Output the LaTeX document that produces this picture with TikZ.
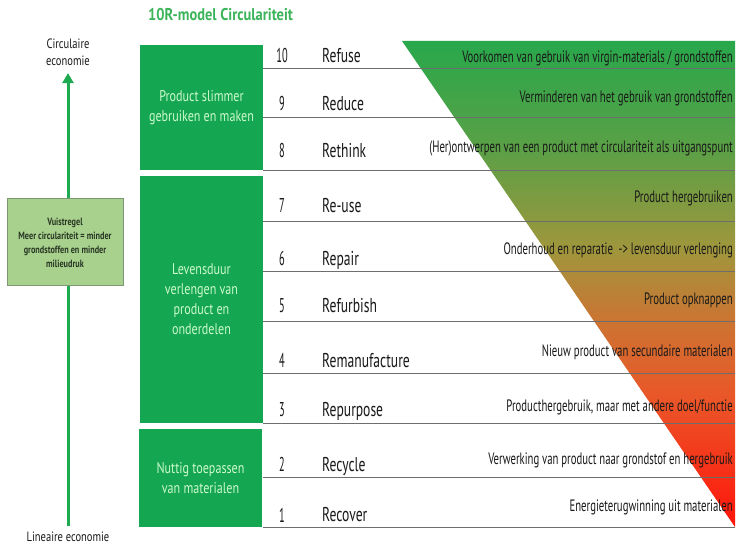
\documentclass[tikz,border=0pt]{standalone}
\usepackage{fontspec}
\setmainfont{PT Sans}
\newfontfamily\fA[FakeStretch=0.68]{PT Sans}
\newfontfamily\fN[FakeStretch=0.52]{PT Sans}
\newfontfamily\fB[FakeStretch=0.65]{PT Sans}
\newfontfamily\fC[FakeStretch=0.78]{PT Sans}
\newfontfamily\fT[FakeStretch=0.85]{PT Sans}
\usetikzlibrary{arrows.meta}
\definecolor{boxgreen}{RGB}{20,166,80}
\definecolor{boxtext}{RGB}{205,250,205}
\definecolor{titlegreen}{RGB}{60,180,90}
\definecolor{arrowgreen}{RGB}{30,170,80}
\definecolor{vuistfill}{RGB}{169,209,142}
\definecolor{vuistline}{RGB}{125,150,115}
\definecolor{vuisttext}{RGB}{40,55,35}
\definecolor{sR}{RGB}{255,20,10}
\definecolor{sO}{RGB}{235,85,40}
\definecolor{sB}{RGB}{205,115,50}
\definecolor{sY}{RGB}{160,150,60}
\definecolor{sL}{RGB}{90,160,70}
\definecolor{sG}{RGB}{40,168,75}
\definecolor{rowgray}{RGB}{110,110,110}
\definecolor{txt}{RGB}{25,25,25}
\pgfdeclareverticalshading{trishade}{100bp}{color(0bp)=(sR); color(25bp)=(sR); color(38bp)=(sO); color(46bp)=(sB); color(53.5bp)=(sY); color(64bp)=(sL); color(75bp)=(sG); color(100bp)=(sG)}
\begin{document}
\begin{tikzpicture}[x=1pt,y=-1pt,
  num/.style={font=\fN\fontsize{20}{20}\selectfont, text=txt, anchor=base, inner sep=0pt},
  rname/.style={font=\fA\fontsize{20}{20}\selectfont, text=txt, anchor=base west, inner sep=0pt},
  desc/.style={font=\fB\fontsize{16.5}{17}\selectfont, text=txt, anchor=base east, inner sep=0pt},
  grp/.style={fill=boxgreen, text=boxtext, font=\fC\fontsize{15.5}{20}\selectfont, align=center, inner sep=0pt},
  vuist/.style={fill=vuistfill, draw=vuistline, line width=1pt, text=vuisttext, font=\fC\bfseries\fontsize{10.5}{14}\selectfont, align=center, inner sep=0pt},
  side/.style={font=\fC\fontsize{13.5}{17}\selectfont, text=txt, align=center, inner sep=0pt},
  rowline/.style={draw=rowgray, line width=0.9pt},
  upar/.style={draw=arrowgreen, line width=3pt, -{Triangle[length=10pt,width=11pt]}}
]
\useasboundingbox (0,0) rectangle (750,545);
\fill[white] (0,0) rectangle (750,545);

% title
\node[font=\fT\bfseries\fontsize{17}{18}\selectfont, text=titlegreen, anchor=base west, inner sep=0pt] (title) at (148,21) {10R-model Circulariteit};

% triangle
\shade[shading=trishade] (402,41) -- (735,41) -- (735,527) -- cycle;

% row lines
\foreach \yy in {68,117,170,221,271,321,373,423,477,527}
  \draw[rowline] (263,\yy) -- (735,\yy);

% numbers and names
\node[num] (n10) at (282,63) {10};   \node[rname] (r10) at (322,63) {Refuse};
\node[num] (n9)  at (282,111) {9};   \node[rname] (r9)  at (322,111) {Reduce};
\node[num] (n8)  at (282,158) {8};   \node[rname] (r8)  at (322,158) {Rethink};
\node[num] (n7)  at (282,213) {7};   \node[rname] (r7)  at (322,213) {Re-use};
\node[num] (n6)  at (282,266) {6};   \node[rname] (r6)  at (322,266) {Repair};
\node[num] (n5)  at (282,313) {5};   \node[rname] (r5)  at (322,313) {Refurbish};
\node[num] (n4)  at (282,368) {4};   \node[rname] (r4)  at (322,368) {Remanufacture};
\node[num] (n3)  at (282,417) {3};   \node[rname] (r3)  at (322,417) {Repurpose};
\node[num] (n2)  at (282,471) {2};   \node[rname] (r2)  at (322,471) {Recycle};
\node[num] (n1)  at (282,522) {1};   \node[rname] (r1)  at (322,521) {Recover};

% descriptions
\node[desc] (d10) at (733,63) {Voorkomen van gebruik van virgin-materials / grondstoffen};
\node[desc] (d9)  at (733,103) {Verminderen van het gebruik van grondstoffen};
\node[desc] (d8)  at (733,153) {(Her)ontwerpen van een product met circulariteit als uitgangspunt};
\node[desc] (d7)  at (733,203) {Product hergebruiken};
\node[desc] (d6)  at (733,255) {Onderhoud en reparatie\ \ -> levensduur verlenging};
\node[desc] (d5)  at (733,305) {Product opknappen};
\node[desc] (d4)  at (733,357) {Nieuw product van secundaire materialen};
\node[desc] (d3)  at (733,411) {Producthergebruik, maar met andere doel/functie};
\node[desc] (d2)  at (733,464) {Verwerking van product naar grondstof en hergebruik};
\node[desc] (d1)  at (733,511) {Energieterugwinning uit materialen};

% group boxes
\node[grp, minimum width=123pt, minimum height=125pt] (g1) at (201.5,107.5) {Product slimmer\\gebruiken en maken};
\node[grp, minimum width=123pt, minimum height=247pt] (g2) at (201.5,299.5) {Levensduur\\verlengen van\\product en\\onderdelen};
\node[grp, minimum width=123pt, minimum height=98pt] (g3) at (200.5,478) {Nuttig toepassen\\van materialen};

% left axis
\node[side] (circ) at (68,52.5) {Circulaire\\economie};
\node[side] (lin) at (68,537) {Lineaire economie};
\draw[upar, shorten <=6pt, shorten >=7pt] (lin.north) -- (circ.south);
\node[vuist, minimum width=116pt, minimum height=87pt] (vuist) at (65,242.5) {Vuistregel\\Meer circulariteit = minder\\grondstoffen en minder\\milieudruk};
\end{tikzpicture}
\end{document}
